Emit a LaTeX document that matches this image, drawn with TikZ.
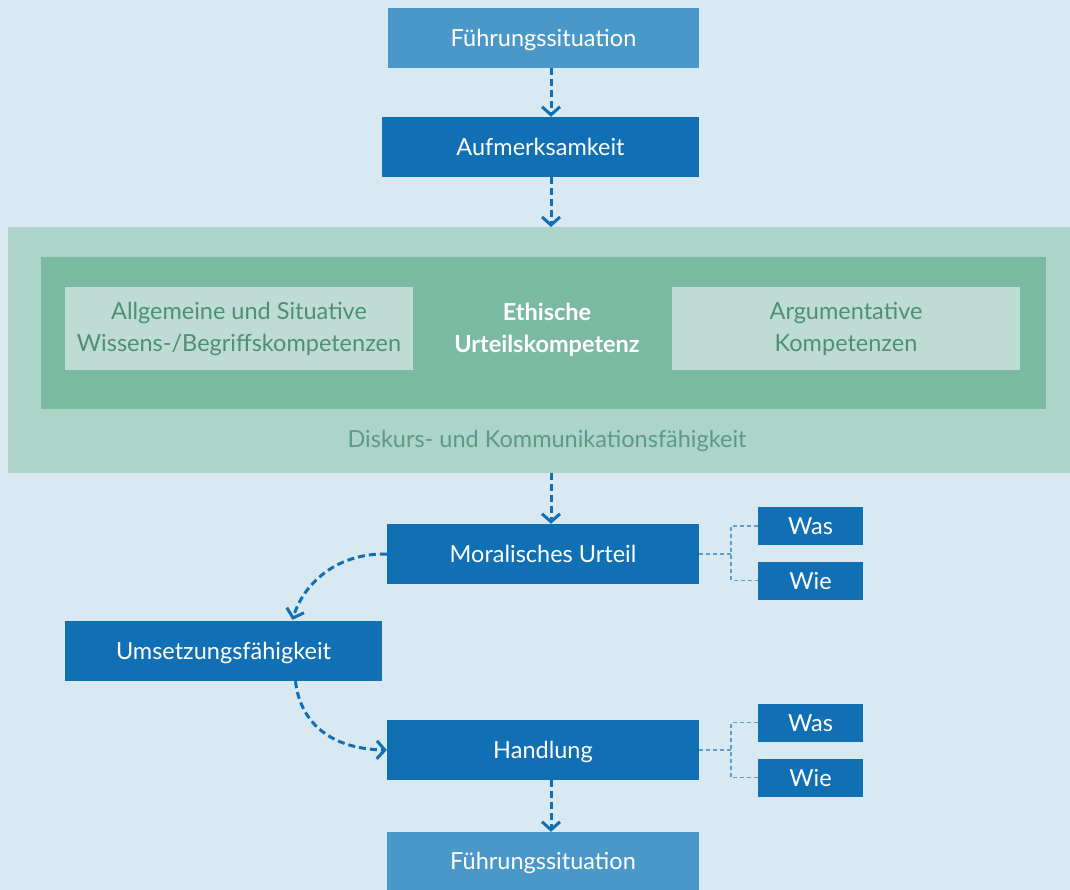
\documentclass[tikz,border=0pt]{standalone}
\usepackage{fontspec}
\setmainfont{Lato}
\usetikzlibrary{arrows.meta,calc}
\definecolor{bg}{HTML}{D9E9F2}
\definecolor{lblue}{HTML}{4A98C8}
\definecolor{dblue}{HTML}{1170B4}
\definecolor{gout}{HTML}{ACD4C8}
\definecolor{gmid}{HTML}{7BBAA2}
\definecolor{gin}{HTML}{BEDCD4}
\definecolor{gtext}{HTML}{4F8F7A}
\definecolor{gtext2}{HTML}{5E9A88}
\definecolor{thinblue}{HTML}{5B9FCC}
\tikzset{
  box/.style={rectangle, inner sep=0pt, text=white, font=\fontsize{23.5}{28}\selectfont, align=center, text height=17pt, text depth=0pt},
  flowarrow/.style={draw=dblue, line width=3pt, dash pattern=on 7pt off 4pt, -{Straight Barb[length=8pt,width=18pt,line width=3pt]}},
  thinlink/.style={draw=thinblue, line width=1.4pt, dash pattern=on 4pt off 3pt},
  gbox/.style={rectangle, inner sep=0pt, fill=gin, text=gtext, font=\fontsize{23.5}{32}\selectfont, align=center},
}
\begin{document}
\begin{tikzpicture}[x=1pt,y=-1pt]
\fill[bg] (0,0) rectangle (1070,890);
\useasboundingbox (0,0) rectangle (1070,890);
% green panel
\fill[gout] (8,227) rectangle (1070,473);
\fill[gmid] (41,257) rectangle (1046,409);
\node[gbox, minimum width=348pt, minimum height=83pt] (k1) at (239,328.5) {Allgemeine und Situative\\Wissens-/Begriffskompetenzen};
\node[gbox, minimum width=348pt, minimum height=83pt] (k2) at (846,328.5) {Argumentative\\Kompetenzen};
\node[text=white, font=\fontsize{23.5}{32}\selectfont\bfseries, align=center] (ek) at (547,330) {Ethische\\Urteilskompetenz};
\node[text=gtext2, font=\fontsize{23.5}{28}\selectfont] (dk) at (547,441) {Diskurs- und Kommunikationsfähigkeit};
\coordinate (gtop) at (551,227);
\coordinate (gbot) at (551,473);
% boxes
\node[box, fill=lblue, minimum width=311pt, minimum height=60pt] (f1) at (543.5,38) {Führungssituation};
\node[box, fill=dblue, minimum width=317pt, minimum height=60pt] (au) at (540.5,147) {Aufmerksamkeit};
\node[box, fill=dblue, minimum width=312pt, minimum height=60pt] (mu) at (543,554) {Moralisches Urteil};
\node[box, fill=dblue, minimum width=317pt, minimum height=60pt] (um) at (223.5,651) {Umsetzungsfähigkeit};
\node[box, fill=dblue, minimum width=312pt, minimum height=60pt] (ha) at (543,750) {Handlung};
\node[box, fill=lblue, minimum width=312pt, minimum height=58pt] (f2) at (543,861) {Führungssituation};
\node[box, fill=dblue, minimum width=105pt, minimum height=38pt] (was1) at (810.5,526) {Was};
\node[box, fill=dblue, minimum width=105pt, minimum height=38pt] (wie1) at (810.5,580.5) {Wie};
\node[box, fill=dblue, minimum width=105pt, minimum height=38pt] (was2) at (810.5,722.5) {Was};
\node[box, fill=dblue, minimum width=105pt, minimum height=38pt] (wie2) at (810.5,777.5) {Wie};
% flow arrows
\draw[flowarrow] (f1.south -| gtop) -- (au.north -| gtop);
\draw[flowarrow] (au.south -| gtop) -- (gtop);
\draw[flowarrow] (gbot) -- (mu.north -| gbot);
\draw[flowarrow] (ha.south -| gbot) -- (f2.north -| gbot);
\draw[flowarrow] (mu.west) .. controls (335,553) and (303,585) .. ($(um.north)+(69,-1)$);
\draw[flowarrow] ($(um.south)+(72,0)$) .. controls (300,722) and (330,749) .. (ha.west);
% thin links
\coordinate (j1) at (731,554);
\coordinate (j2) at (731,750);
\draw[thinlink] (mu.east) -- (j1);
\draw[thinlink] (was1.west) -| (j1) |- (wie1.west);
\draw[thinlink] (ha.east) -- (j2);
\draw[thinlink] (was2.west) -| (j2) |- (wie2.west);
\end{tikzpicture}
\end{document}
